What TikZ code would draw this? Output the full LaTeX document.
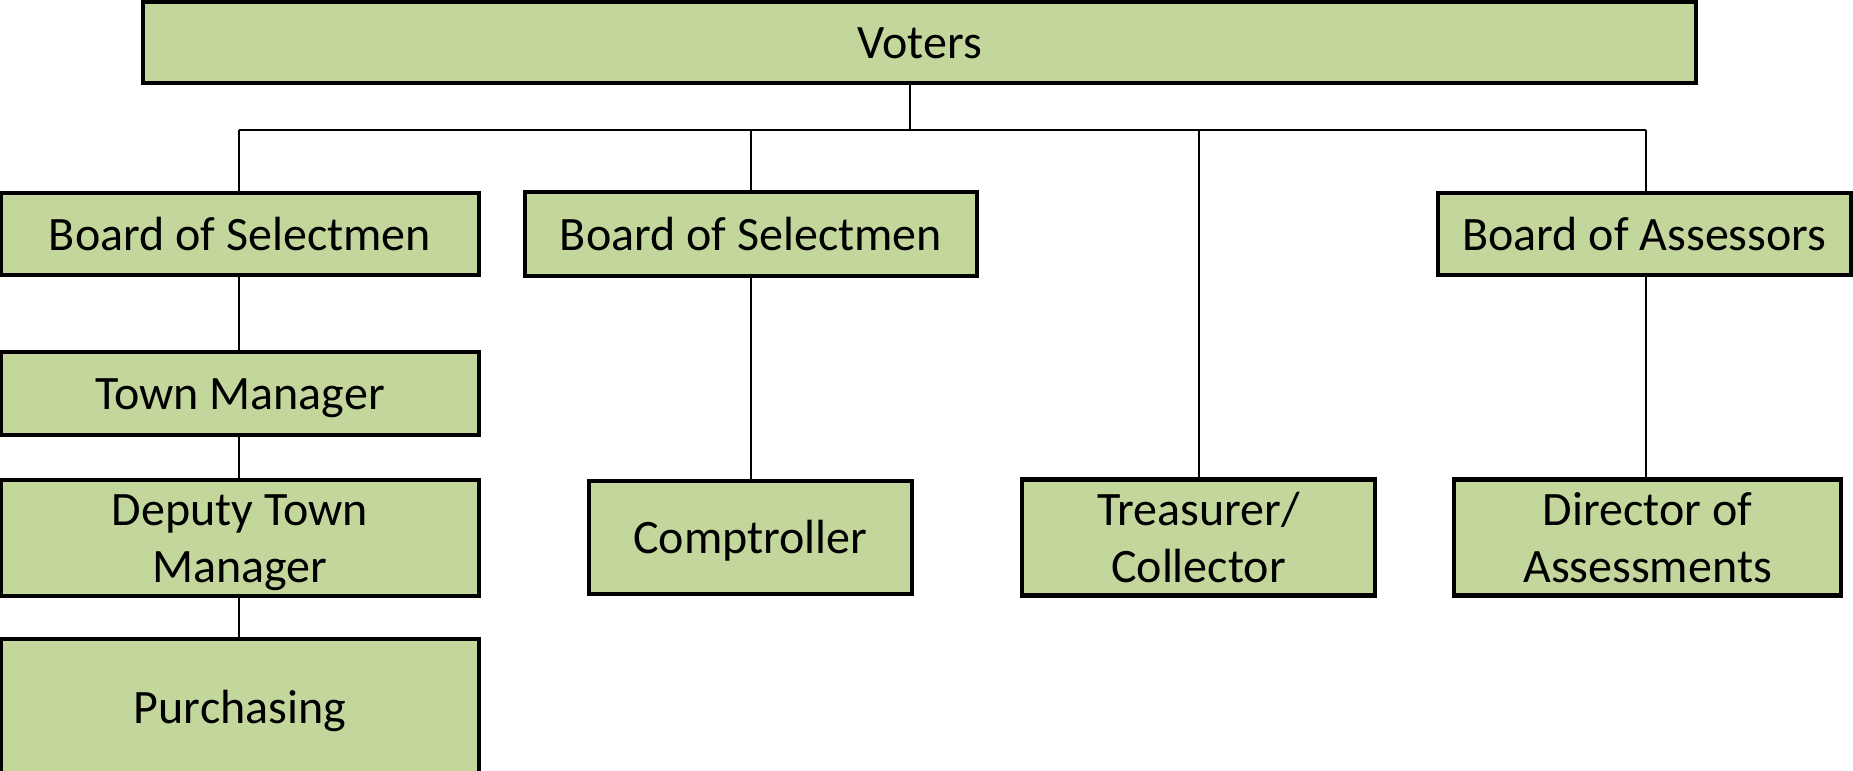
\documentclass[tikz,border=0pt]{standalone}
\usepackage{fontspec}
\setmainfont{Carlito}
\definecolor{boxfill}{HTML}{C3D69B}
\newcommand{\orgfont}{\fontsize{48}{57}\selectfont\lineskiplimit=-100pt\relax}
\begin{document}
\begin{tikzpicture}[x=1pt,y=-1pt,
  orgbox/.style={draw=black, line width=4.5pt, fill=boxfill, rectangle, inner sep=0pt,
    align=center, font=\orgfont, text height=45.7pt, text depth=12.9pt},
  twoline/.style={text height=102.7pt},
  link/.style={draw=black, line width=2pt}]
\useasboundingbox (0,0) rectangle (1853,771);
\node[orgbox, minimum width=1553pt, minimum height=81pt] (voters) at (919.5,42.5) {Voters};
\node[orgbox, minimum width=478pt, minimum height=82pt] (bos1) at (240,234) {Board of Selectmen};
\node[orgbox, minimum width=478pt, minimum height=83pt] (tm) at (240,393.5) {Town Manager};
\node[orgbox, twoline, minimum width=478pt, minimum height=114pt] (dtm) at (240,538) {Deputy Town\\Manager};
\node[orgbox, minimum width=478pt, minimum height=136pt] (pur) at (240,707) {Purchasing};
\node[orgbox, minimum width=452pt, minimum height=84pt] (bos2) at (751,234) {Board of Selectmen};
\node[orgbox, minimum width=323pt, minimum height=113pt] (comp) at (750.5,537.5) {Comptroller};
\node[orgbox, twoline, minimum width=353pt, minimum height=115pt] (treas) at (1198.5,537.5) {Treasurer/\\Collector};
\node[orgbox, minimum width=413pt, minimum height=82pt] (boa) at (1644.5,234) {Board of Assessors};
\node[orgbox, twoline, minimum width=387pt, minimum height=115pt] (dir) at (1647.5,537.5) {Director of\\Assessments};
\coordinate (bus) at (910,130);
\coordinate (busL) at (239,130);
\coordinate (busR) at (1646,130);
\path[link] (voters.south -| bus) -- (bus);
\path[link] (busL) -- (busR);
\path[link] (busL) -- (busL |- bos1.north);
\path[link] (bus -| bos2) -- (bos2.north);
\path[link] (bus -| treas) -- (treas.north);
\path[link] (busR) -- (busR |- boa.north);
\path[link] (bos1.south -| busL) -- (tm.north -| busL);
\path[link] (tm.south -| busL) -- (dtm.north -| busL);
\path[link] (dtm.south -| busL) -- (pur.north -| busL);
\path[link] (bos2.south) -- (comp.north -| bos2.south);
\path[link] (boa.south -| busR) -- (dir.north -| busR);
\end{tikzpicture}
\end{document}
